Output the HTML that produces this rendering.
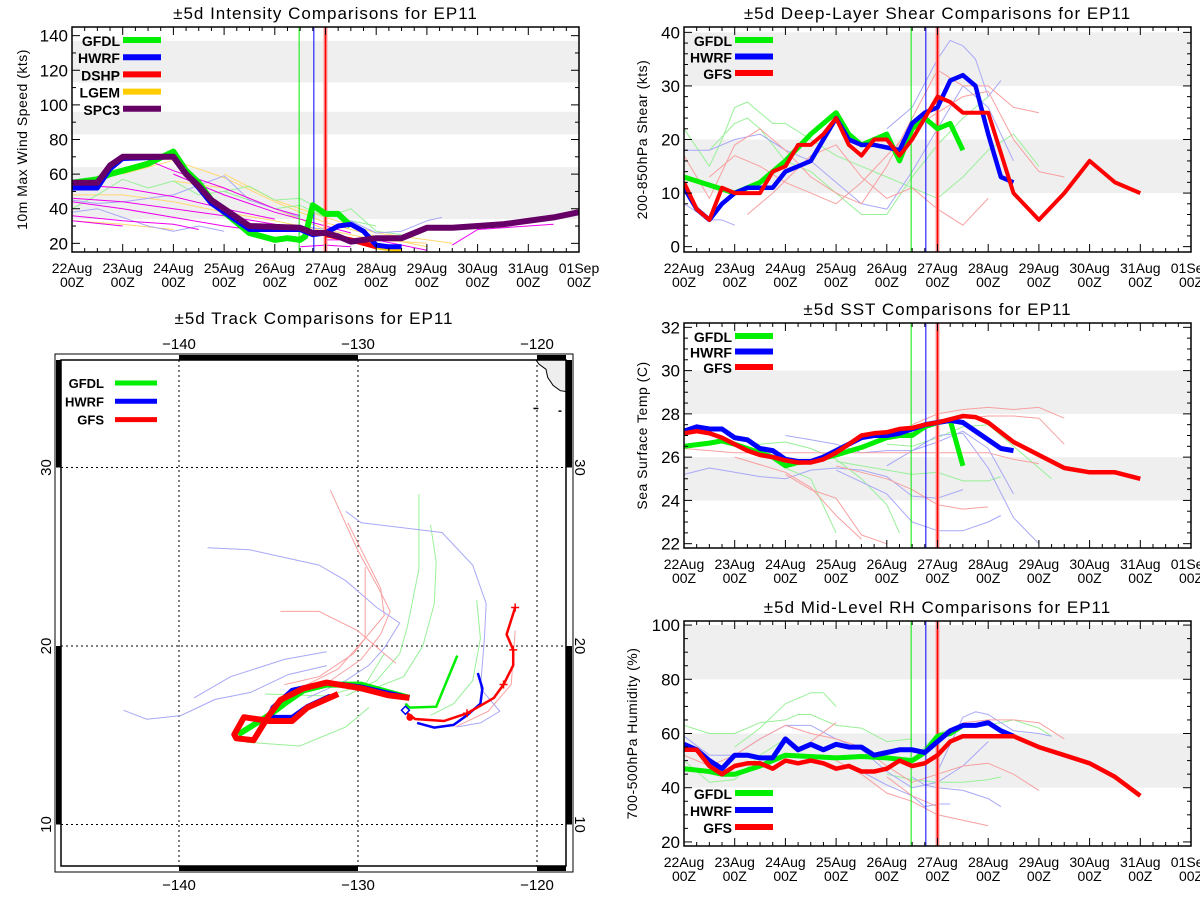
<!DOCTYPE html>
<html><head><meta charset="utf-8"><style>
html,body{margin:0;padding:0;background:#fff;}
svg{display:block;font-family:"Liberation Sans",sans-serif;}
</style></head><body>
<svg id="chart" width="1200" height="900" viewBox="0 0 1200 900"></svg>
<script>
// ---------------- DATA ----------------
const dayLabels=["22Aug","23Aug","24Aug","25Aug","26Aug","27Aug","28Aug","29Aug","30Aug","31Aug","01Sep"];
const fcstDays=[4.48,4.77,5.0];
// Intensity (kts)
const intSpc3=[[0,55],[0.5,55],[0.75,65],[1,70],[2,70],[2.25,60],[2.5,53],[2.75,45],[3,40],[3.25,35],[3.5,30],[4.5,29],[4.75,26],[5,26],[5.25,24],[5.5,21],[6,23],[6.5,23],[7,29],[7.5,29],[8,30],[8.5,31],[9,33],[9.5,35],[10,38]];
const intHwrf=[[0,52],[0.5,52],[0.75,63],[1,69],[2,70],[2.25,60],[2.5,52],[2.75,43],[3,38],[3.25,33],[3.5,28],[4.5,28],[4.75,25],[5,26],[5.25,30],[5.5,31],[5.75,27],[6,19],[6.25,18],[6.5,18]];
const intGfdl=[[0,55],[0.5,57],[0.75,60],[1,62],[1.5,66],[2,73],[2.25,62],[2.5,55],[2.75,45],[3,38],[3.25,32],[3.5,26],[3.75,24],[4,22],[4.25,23],[4.5,22],[4.6,24],[4.75,42],[5,37],[5.25,37],[5.5,30]];
const intDshp=[[5,25],[5.5,22],[6,18]];
const intLgem=[[6,18],[6.5,16]];
const intThinMag=[[[0,46],[1,44],[2,40],[3,36],[4,31],[4.5,28]],[[0,44],[1,40],[2,35],[3,30],[3.5,28]],[[0,54],[1,52],[2,47],[3,40],[4,34]],[[0,36],[1,33],[2,31],[2.5,28]],[[0,33],[1,30]],[[1.5,68],[2,62],[3,52],[4,40],[4.5,36]],[[2,60],[3,48],[4,38],[5,30],[5.5,26]],[[4.5,18],[5,19],[5.5,18]],[[7.5,19],[8,28],[9,30],[9.5,31]],[[5,22],[6,22],[7,16]]];
const intThinYel=[[[0,48],[1,48],[2,44],[3,38],[4,33],[5,27]],[[1,60],[2,68],[3,58],[4,44],[5,32],[6,24],[7,18]],[[0,33],[1,31],[2,28]],[[2,56],[3,52],[4,40],[5,28],[6,22],[7,20]],[[3,60],[4,45],[5,35],[6,26],[7.5,20]]];
const intThinGrn=[[[0,40],[0.5,48],[1,57],[1.5,52],[2,56],[2.5,48],[3,50],[3.5,53],[4,45],[4.5,46],[5,38],[5.5,33],[6,30]],[[3,50],[3.5,45],[4,40],[4.5,42],[5,35],[5.5,40],[6,27],[6.5,25]]];
const intThinBlu=[[[0,38],[0.5,40],[1,35],[1.5,30],[2,27],[2.5,30],[3,27]],[[0,45],[0.5,43],[1,44],[2,48],[3,59],[3.5,45],[4,40],[4.5,35]],[[4.5,30],[5,28],[5.5,33],[6,26],[6.5,27],[7,33],[7.3,35]]];
// Shear (kts)
const shGfs=[[0,12],[0.25,7],[0.5,5],[0.75,11],[1,10],[1.25,10],[1.5,10],[1.75,14],[2,15],[2.25,19],[2.5,19],[2.75,21],[3,24],[3.25,19],[3.5,17],[3.75,20],[4,20],[4.25,17],[4.5,20],[4.75,24],[5,28],[5.25,27],[5.5,25],[6,25],[6.5,10],[7,5],[7.5,10],[8,16],[8.5,12],[9,10]];
const shHwrf=[[0,11],[0.25,7],[0.5,5],[0.75,8],[1,10],[1.25,11],[1.5,11],[1.75,11],[2,14],[2.25,15],[2.5,16],[2.75,20],[3,24],[3.25,20],[3.5,19],[3.75,19],[4,18.5],[4.25,18],[4.5,23],[4.75,25],[5,26],[5.25,31],[5.5,32],[5.75,30],[6,21],[6.25,13],[6.5,12]];
const shGfdl=[[0,13],[1,10],[1.5,12],[2,16],[2.5,21],[3,25],[3.25,21],[3.5,19],[3.75,20],[4,21],[4.25,16],[4.5,22],[4.75,24],[5,22],[5.25,23],[5.5,18]];
const shThinG=[[[0,22],[0.5,15],[0.75,20],[1,26],[1.25,27],[1.5,25],[1.75,23],[2,23],[2.5,20],[3,17],[3.5,15],[4,13],[4.5,11],[5,9],[5.5,13],[6,18],[6.5,21],[7,15]],[[0.5,18],[1,23],[1.25,24],[1.5,22],[2,16],[2.5,14],[3,10],[3.5,6],[4,6],[4.5,13],[5,19],[5.5,24],[6,28]]];
const shThinB=[[[0,18],[0.5,18],[1,20],[1.5,21],[2,18],[2.5,16],[3,12],[3.5,8],[4,7],[4.5,14],[5,22],[5.5,30],[6,26],[6.5,16]],[[4,22],[4.5,26],[5,35],[5.25,38.5],[5.5,37.5],[5.75,35],[6,28],[6.25,31]],[[0,8],[0.5,5],[0.75,5],[1,4]]];
const shThinR=[[[0,17],[0.5,9],[1,19],[1.5,22],[2,18],[2.5,13],[3,10],[3.5,8],[4,15],[4.5,24],[5,33],[5.5,30],[6,30],[6.5,26],[7,25]],[[0.5,13],[1,17],[1.5,15],[2,12],[2.5,10],[3,8],[3.5,12],[4,17],[4.5,22],[5,25],[5.5,28],[6,29],[6.5,20],[7,14],[7.5,13]],[[1.25,6],[1.75,10],[2.5,17],[3,19],[3.5,13],[4,9],[4.5,11],[5,7],[5.5,4],[6,9]]];
// SST (C)
const sstGfs=[[0,27.1],[0.25,27.2],[0.5,27.1],[0.75,26.9],[1,26.6],[1.25,26.3],[1.5,26.1],[1.75,26.0],[2,25.85],[2.25,25.75],[2.5,25.75],[2.75,25.9],[3,26.2],[3.25,26.6],[3.5,27.0],[3.75,27.1],[4,27.15],[4.25,27.3],[4.5,27.35],[4.75,27.5],[5,27.6],[5.25,27.75],[5.5,27.9],[5.75,27.85],[6,27.6],[6.5,26.7],[7,26.1],[7.5,25.5],[8,25.3],[8.5,25.3],[9,25.0]];
const sstHwrf=[[0,27.2],[0.25,27.4],[0.5,27.3],[0.75,27.3],[1,26.9],[1.25,26.8],[1.5,26.4],[1.75,26.3],[2,25.9],[2.25,25.8],[2.5,25.8],[2.75,26.0],[3,26.3],[3.25,26.6],[3.5,26.9],[3.75,27.0],[4,27.0],[4.25,27.1],[4.5,27.3],[4.75,27.5],[5,27.6],[5.25,27.7],[5.5,27.6],[5.75,27.2],[6,26.8],[6.25,26.4],[6.5,26.3]];
const sstGfdl=[[0,26.5],[0.5,26.65],[0.75,26.75],[1,26.6],[1.5,26.2],[1.75,26.0],[2,25.6],[2.25,25.75],[2.5,25.8],[3,26.1],[3.5,26.45],[4,26.9],[4.25,27.0],[4.5,27.0],[4.75,27.4],[5,27.6],[5.25,27.7],[5.5,25.6]];
const sstThinB=[[[0,25.2],[0.5,25.5],[1,25.3],[1.5,25.1],[2,25.0],[2.5,25.4],[3,25.5],[3.5,25.4],[4,25.1],[4.5,24.2],[5,24.1],[5.5,24.5]],[[2,27.0],[2.5,26.8],[3,26.6],[3.5,26.2],[4,26.3],[4.5,26.3],[5,26.7],[5.5,27.2],[6,26.4],[6.5,24.3]],[[3,25.4],[4,24.3],[4.5,23.0],[5,22.6],[5.5,22.6],[6,23.0],[6.25,23.3]],[[4,25.6],[5,27.0],[5.5,27.1],[6,25.5],[6.5,23.2],[7,22]]];
const sstThinG=[[[1,26.8],[1.5,26.6],[2,26.7],[2.5,26.4],[3,25.9],[3.5,25.0],[4,23.8],[4.25,22.5]],[[2,25.5],[2.5,25.0],[3,22.5]],[[4,26.6],[4.5,26.5],[5,26.9],[5.5,27.4],[6,27.5],[6.5,26.5],[7.25,25.0]],[[3,25.8],[4,25.4],[4.5,25.2],[5,25.3],[5.5,24.9],[6,24.9],[6.25,25.1]]];
const sstThinR=[[[2,25.2],[2.5,24.5],[3,24.1],[3.5,22.4],[4,22.0]],[[0,26.4],[1,26.2],[2,26.2],[3,26.2],[4,26.2],[5,26.2],[6,26.2],[6.5,25.9],[7,25.7]],[[3,25.6],[4,25.0],[4.5,24.5],[5,23.8],[5.5,23.6],[6,23.7]],[[4.5,27.5],[5,28.0],[5.5,28.2],[6,28.3],[6.5,28.2],[7,28.3],[7.5,27.8]],[[5,27.7],[6,27.9],[6.5,27.9],[7,27.8],[7.5,26.6]],[[1,26.0],[2,25.3],[2.5,24.6],[3,23.3],[3.5,22.2]]];
// RH (%)
const rhGfs=[[0,54],[0.25,54],[0.5,48],[0.75,45],[1,48],[1.25,49],[1.5,49],[1.75,47],[2,50],[2.25,49],[2.5,50],[2.75,49],[3,47],[3.25,48],[3.5,46],[3.75,46],[4,47],[4.25,50],[4.5,48],[4.75,49],[5,52],[5.25,57],[5.5,59],[6,59],[6.5,59],[7,55],[7.5,52],[8,49],[8.5,44],[9,37]];
const rhHwrf=[[0,56],[0.25,54],[0.5,50],[0.75,47],[1,52],[1.25,52],[1.5,51],[1.75,51],[2,58],[2.25,54],[2.5,56],[2.75,54],[3,56],[3.25,55],[3.5,55],[3.75,52],[4,53],[4.25,54],[4.5,54],[4.75,53],[5,57],[5.25,61],[5.5,63],[5.75,63],[6,64],[6.25,61],[6.5,59]];
const rhGfdl=[[0,47],[0.5,46],[0.75,45],[1,45],[1.5,48],[2,52],[3,51],[3.5,51.5],[4,51],[4.5,50],[4.75,53],[5,59],[5.25,60],[5.5,63]];
const rhThinG=[[[0,63],[0.5,60],[1,60],[1.5,64],[2,65],[2.25,67],[2.5,67],[3,63],[3.5,62],[4,57],[4.5,58]],[[1,55],[1.5,62],[2,71],[2.25,73],[2.5,75],[2.75,75],[3,70]],[[0,50],[0.5,42],[1,43],[1.5,52],[2,58]],[[4,45],[4.5,43],[5,42],[5.5,42],[6,43],[6.25,44]],[[4.5,50],[5,60],[5.5,63],[6,63],[6.5,65],[7,62],[7.25,59]]];
const rhThinB=[[[0,59],[0.5,52],[1,52],[1.5,58],[2,63],[2.5,63],[3,58],[3.5,54],[4,46],[4.5,40],[5,42],[5.5,48],[6,57]],[[4.5,44],[4.75,41],[5,40],[5.5,39],[6,36],[6.25,33]],[[5,46],[5.5,66],[5.75,68],[6,67],[6.5,61],[7,60],[7.25,59]],[[3.5,46],[4,41],[4.5,37],[4.75,33],[5,34],[5.25,34]]];
const rhThinR=[[[0,52],[0.5,48],[1,52],[1.5,58],[2,63],[2.5,60],[3,58],[3.5,55],[4,48],[4.5,42],[5,45],[5.5,48],[6,49],[6.5,45],[7,39]],[[2.5,57],[3,64]],[[3,50],[3.5,45],[4,38],[4.5,35],[5,30],[6,26]],[[5.5,64],[6,65],[6.5,65],[7,64],[7.5,58]],[[4,44],[4.5,37],[5,33]]];
// Track (lon, lat)
const trkGfsThick=[[-127.13,17.09],[-128.31,17.24],[-129.82,17.63],[-131.75,17.95],[-133.04,17.63],[-134.33,16.98],[-134.97,16.12],[-135.83,14.72],[-136.8,14.83],[-136.91,15.04],[-136.37,16.01],[-134.97,15.8],[-133.68,15.8],[-132.83,16.55],[-131.11,17.31]];
const trkGfdlThick=[[-136.69,15.04],[-134.97,16.12],[-134.11,16.77],[-133.04,17.52],[-131.75,17.84],[-129.82,17.84],[-128.31,17.41],[-127.13,17.09]];
const trkHwrfThick=[[-127.13,17.09],[-129.82,17.7],[-131.75,17.95],[-133.68,17.52],[-134.75,16.55],[-134.97,16.0],[-133.68,16.0],[-132.83,16.6],[-131.54,17.2]];
const trkGfsNow=[[-127.24,16.23],[-126.81,15.91],[-125.2,15.8],[-123.91,16.23],[-122.41,17.09],[-121.87,17.84],[-121.33,18.92],[-121.33,19.78],[-121.7,20.65],[-121.22,22.16]];
const trkGfdlNow=[[-127.35,16.77],[-127.13,16.55],[-125.63,16.6],[-124.45,19.46]];
const trkHwrfNow=[[-126.7,15.69],[-125.74,15.43],[-124.66,15.58],[-123.91,16.12],[-123.16,16.77],[-123.05,17.63],[-123.31,18.49]];
const trkThinB=[[[-143.1,16.4],[-141.8,15.9],[-139.9,16.1],[-138.0,17.0],[-136.0,17.4],[-133.9,18.4],[-131.75,18.9]],[[-138.41,25.5],[-136.05,25.39],[-132.18,24.53],[-130.68,23.66],[-128.96,22.16],[-127.67,21.29],[-128.53,19.89],[-129.39,18.92],[-130.68,18.06],[-132.83,17.09]],[[-130.68,27.54],[-129.82,26.9],[-125.31,26.36],[-123.59,24.53],[-122.84,22.37],[-122.94,20.43],[-123.16,17.63],[-122.08,16.34],[-123.16,15.69],[-124.45,15.47]],[[-139.16,17.09],[-137.12,18.28],[-134.11,19.25],[-131.75,19.68]]];
const trkThinG=[[[-126.6,28.51],[-126.6,24.31],[-127.24,21.08],[-127.67,19.57],[-128.96,18.06],[-130.68,17.2]],[[-125.95,26.79],[-125.63,24.74],[-125.74,22.37],[-126.38,20.0],[-127.45,18.28],[-129.39,17.52]],[[-123.37,22.59],[-123.16,20.43],[-123.59,18.06],[-124.66,16.77],[-125.95,16.12]],[[-136.26,14.61],[-133.25,14.4],[-130.68,15.47],[-129.39,16.55]],[[-135.19,17.31],[-131.75,17.2],[-129.6,17.84],[-128.53,19.57]]];
const trkThinR=[[[-131.54,28.73],[-130.03,25.39],[-128.74,23.02],[-128.2,21.94],[-128.74,20.65],[-129.82,19.25],[-131.54,18.06],[-133.68,17.2]],[[-130.57,26.9],[-128.74,23.23],[-128.53,21.72],[-129.6,20.43],[-131.11,18.71],[-132.83,17.84]],[[-134.33,21.94],[-132.18,21.94],[-130.03,20.86],[-128.53,19.57],[-127.88,19.03]],[[-129.6,24.42],[-129.6,20.43],[-130.25,19.57],[-132.18,18.28],[-134.11,17.84]],[[-121.22,20.86],[-121.44,17.84],[-122.73,16.34],[-124.56,15.47]]];
const trkCrosses=[[-123.91,16.23],[-121.87,17.84],[-121.33,19.78],[-121.22,22.16]];
const coast=[[-120.1,36.1],[-119.9,35.8],[-119.5,35.5],[-119.4,35.05],[-119.1,34.6],[-118.7,34.3],[-118.0,34.2],[-117.3,34.0],[-117.0,33.8]];

// ---------------- RENDER ----------------
const NS="http://www.w3.org/2000/svg";
const svg=document.getElementById('chart');
function mk(tag,attrs,parent,name,inter){
  const e=document.createElementNS(NS,tag);
  for(const k in attrs) e.setAttribute(k,attrs[k]);
  
  
  (parent||svg).appendChild(e);return e;
}
function txt(x,y,s,size,anchor,parent,name,extra){
  const a=Object.assign({x:x,y:y,'font-size':size,'text-anchor':anchor||'middle',fill:'#000'},extra||{});
  const t=mk('text',a,parent,name,false);t.textContent=s;return t;
}
function pathOf(pts,fx,fy){return pts.map((p,i)=>(i?'L':'M')+fx(p[0]).toFixed(1)+' '+fy(p[1]).toFixed(1)).join(' ');}

const C={g:'#00ee00',b:'#0000ff',r:'#ff0000',p:'#660066',y:'#ffcc00',m:'#ee00ee',lg:'#99f099',lb:'#a8a8f8',lr:'#f8a0a0',ly:'#ffd870'};

function timePanel(p){
  const g=mk('g',{},svg,p.name,false);
  const xs=d=>p.x0+d*(p.x1-p.x0)/10;
  const ys=v=>p.y1-(v-p.vmin)*(p.y1-p.y0)/(p.vmax-p.vmin);
  const cid='clip-'+p.name;
  const cp=mk('clipPath',{id:cid},g,cid,false);
  mk('rect',{x:p.x0,y:p.y0,width:p.x1-p.x0,height:p.y1-p.y0},cp,'clip-rect',false);
  const inner=mk('g',{'clip-path':'url(#'+cid+')'},g,'plot-area',false);
  p.bands.forEach(b=>{mk('rect',{x:p.x0,y:ys(b[1]),width:p.x1-p.x0,height:ys(b[0])-ys(b[1]),fill:'#efefef'},inner,'shaded-band',false);});
  const drawSet=(sets,col,w,nm)=>sets.forEach(s=>mk('path',{d:pathOf(s,xs,ys),fill:'none',stroke:col,'stroke-width':w,'stroke-linejoin':'round'},inner,nm,false));
  p.thin.forEach(t=>drawSet(t[0],t[1],1,'ensemble-line'));
  // forecast-time vertical lines
  mk('line',{x1:xs(fcstDays[0]),x2:xs(fcstDays[0]),y1:p.y0,y2:p.y1,stroke:C.g,'stroke-width':1},inner,'gfdl-time-marker',false);
  mk('line',{x1:xs(fcstDays[1]),x2:xs(fcstDays[1]),y1:p.y0,y2:p.y1,stroke:C.b,'stroke-width':1},inner,'hwrf-time-marker',false);
  mk('line',{x1:xs(fcstDays[2]),x2:xs(fcstDays[2]),y1:p.y0,y2:p.y1,stroke:'#f8a0a0','stroke-width':4},inner,'gfs-time-marker-glow',false);
  mk('line',{x1:xs(fcstDays[2]),x2:xs(fcstDays[2]),y1:p.y0,y2:p.y1,stroke:C.r,'stroke-width':1.5},inner,'gfs-time-marker',false);
  p.main.forEach(s=>mk('path',{d:pathOf(s.d,xs,ys),fill:'none',stroke:s.c,'stroke-width':s.w,'stroke-linejoin':'round'},inner,s.name,false));
  // frame
  mk('rect',{x:p.x0,y:p.y0,width:p.x1-p.x0,height:p.y1-p.y0,fill:'none',stroke:'#000','stroke-width':1.5},g,'plot-frame',false);
  // x ticks
  for(let i=0;i<=40;i++){
    const d=i/4,x=xs(d),L=(i%4===0)?8:4;
    mk('line',{x1:x,x2:x,y1:p.y1,y2:p.y1-L,stroke:'#000','stroke-width':1},g,'x-tick',false);
    mk('line',{x1:x,x2:x,y1:p.y0,y2:p.y0+L,stroke:'#000','stroke-width':1},g,'x-tick-top',false);
  }
  dayLabels.forEach((s,i)=>{txt(xs(i),p.y1+21,s,14,'middle',g,'x-tick-label');txt(xs(i),p.y1+35,'00Z',14,'middle',g,'x-tick-label-hour');});
  // y ticks
  for(let v=p.tk0;v<=p.tk1+1e-6;v+=p.minor){
    const y=ys(v);const maj=Math.abs((v-p.tk0)/p.major-Math.round((v-p.tk0)/p.major))<1e-6;const L=maj?8:4;
    mk('line',{x1:p.x0,x2:p.x0+L,y1:y,y2:y,stroke:'#000'},g,'y-tick',false);
    mk('line',{x1:p.x1,x2:p.x1-L,y1:y,y2:y,stroke:'#000'},g,'y-tick-right',false);
    if(maj) txt(p.x0-4,y+6,String(v),17,'end',g,'y-tick-label');
  }
  txt((p.x0+p.x1)/2,p.y0-8,p.title,17,'middle',g,'panel-title',{'letter-spacing':'1'});
  txt(0,0,p.ylabel,14,'middle',g,'y-axis-title',{transform:'translate('+p.ylx+','+((p.y0+p.y1)/2)+') rotate(-90)','letter-spacing':'0.5'});
  // legend
  p.legend.forEach((l,i)=>{
    const y=p.ly+i*p.lstep;
    txt(p.lx-3,y+6,l[0],14,'end',g,'legend-label',{'font-weight':'bold'});
    mk('line',{x1:p.lx,x2:p.lx+38,y1:y,y2:y,stroke:l[1],'stroke-width':6},g,'legend-swatch',false);
  });
}

timePanel({name:'intensity-panel',x0:72,x1:579,y0:27,y1:252,vmin:15,vmax:145,bands:[[34,64],[83,96],[113,137]],
  tk0:20,tk1:140,major:20,minor:10,title:'±5d Intensity Comparisons for EP11',ylabel:'10m Max Wind Speed (kts)',ylx:27,
  thin:[[intThinYel,C.ly],[intThinGrn,C.lg],[intThinBlu,C.lb],[intThinMag,C.m]],
  main:[{d:intDshp,c:C.r,w:5,name:'dshp-line'},{d:intLgem,c:C.y,w:5,name:'lgem-line'},{d:intGfdl,c:C.g,w:6,name:'gfdl-line'},{d:intHwrf,c:C.b,w:5,name:'hwrf-line'},{d:intSpc3,c:C.p,w:6,name:'spc3-line'}],
  legend:[['GFDL',C.g],['HWRF',C.b],['DSHP',C.r],['LGEM',C.y],['SPC3',C.p]],lx:123,ly:40,lstep:17.2});
timePanel({name:'shear-panel',x0:684,x1:1191,y0:27,y1:252,vmin:-1,vmax:41,bands:[[10,20],[30,40]],
  tk0:0,tk1:40,major:10,minor:2,title:'±5d Deep-Layer Shear Comparisons for EP11',ylabel:'200-850hPa Shear (kts)',ylx:647,
  thin:[[shThinG,C.lg],[shThinB,C.lb],[shThinR,C.lr]],
  main:[{d:shGfdl,c:C.g,w:5,name:'gfdl-line'},{d:shHwrf,c:C.b,w:4.5,name:'hwrf-line'},{d:shGfs,c:C.r,w:4,name:'gfs-line'}],
  legend:[['GFDL',C.g],['HWRF',C.b],['GFS',C.r]],lx:735,ly:40,lstep:16.5});
timePanel({name:'sst-panel',x0:684,x1:1191,y0:323,y1:548,vmin:21.8,vmax:32.2,bands:[[24,26],[28,30]],
  tk0:22,tk1:32,major:2,minor:0.5,title:'±5d SST Comparisons for EP11',ylabel:'Sea Surface Temp (C)',ylx:647,
  thin:[[sstThinG,C.lg],[sstThinB,C.lb],[sstThinR,C.lr]],
  main:[{d:sstGfdl,c:C.g,w:5,name:'gfdl-line'},{d:sstHwrf,c:C.b,w:5,name:'hwrf-line'},{d:sstGfs,c:C.r,w:4.5,name:'gfs-line'}],
  legend:[['GFDL',C.g],['HWRF',C.b],['GFS',C.r]],lx:735,ly:336,lstep:15.5});
timePanel({name:'rh-panel',x0:684,x1:1191,y0:621,y1:846,vmin:18.5,vmax:101.5,bands:[[40,60],[80,100]],
  tk0:20,tk1:100,major:20,minor:5,title:'±5d Mid-Level RH Comparisons for EP11',ylabel:'700-500hPa Humidity (%)',ylx:637,
  thin:[[rhThinG,C.lg],[rhThinB,C.lb],[rhThinR,C.lr]],
  main:[{d:rhGfdl,c:C.g,w:5,name:'gfdl-line'},{d:rhHwrf,c:C.b,w:5,name:'hwrf-line'},{d:rhGfs,c:C.r,w:4.5,name:'gfs-line'}],
  legend:[['GFDL',C.g],['HWRF',C.b],['GFS',C.r]],lx:735,ly:793,lstep:17});

// ---------------- TRACK MAP ----------------
(function(){
  const g=mk('g',{},svg,'track-panel',false);
  const X0=61,X1=566,Y0=360,Y1=866;
  const lx=lon=>179+(lon+140)*17.9;
  const ly=lat=>646-(lat-20)*17.85;
  mk('clipPath',{id:'trkclip'},g,'track-clip',false).appendChild((()=>{const r=document.createElementNS(NS,'rect');r.setAttribute('x',X0);r.setAttribute('y',Y0);r.setAttribute('width',X1-X0);r.setAttribute('height',Y1-Y0);return r;})());
  const inner=mk('g',{'clip-path':'url(#trkclip)'},g,'map-area',false);
  // land
  const lp=coast.map((p,i)=>(i?'L':'M')+lx(p[0]).toFixed(1)+' '+ly(p[1]).toFixed(1)).join(' ')+' L '+(X1+2)+' '+ly(33.8).toFixed(1)+' L '+(X1+2)+' '+(Y0-2)+' Z';
  mk('path',{d:lp,fill:'#eeeeee',stroke:'#000','stroke-width':1},inner,'land-coastline',false);
  mk('rect',{x:lx(-120.2),y:ly(33.35),width:5,height:1.5,fill:'#000'},inner,'island',false);
  mk('rect',{x:lx(-118.8),y:ly(33.2),width:3,height:1.5,fill:'#000'},inner,'island',false);
  // grid
  [-140,-130,-120].forEach(l=>mk('line',{x1:lx(l),x2:lx(l),y1:Y0,y2:Y1,stroke:'#000','stroke-dasharray':'2,3','stroke-width':1},inner,'longitude-gridline',false));
  [30,20,10].forEach(l=>mk('line',{x1:X0,x2:X1,y1:ly(l),y2:ly(l),stroke:'#000','stroke-dasharray':'2,3','stroke-width':1},inner,'latitude-gridline',false));
  const ds=(sets,col,nm)=>sets.forEach(s=>mk('path',{d:pathOf(s,lx,ly),fill:'none',stroke:col,'stroke-width':1},inner,nm,false));
  ds(trkThinG,C.lg,'ensemble-track');ds(trkThinR,C.lr,'ensemble-track');ds(trkThinB,C.lb,'ensemble-track');
  mk('path',{d:pathOf(trkGfdlThick,lx,ly),fill:'none',stroke:C.g,'stroke-width':6,'stroke-linejoin':'round'},inner,'gfdl-track-thick',false);
  mk('path',{d:pathOf(trkHwrfThick,lx,ly),fill:'none',stroke:C.b,'stroke-width':5,'stroke-linejoin':'round'},inner,'hwrf-track-thick',false);
  mk('path',{d:pathOf(trkGfsThick,lx,ly),fill:'none',stroke:C.r,'stroke-width':6,'stroke-linejoin':'round'},inner,'gfs-track-thick',false);
  mk('path',{d:pathOf(trkGfdlNow,lx,ly),fill:'none',stroke:C.g,'stroke-width':2.5},inner,'gfdl-track',false);
  mk('path',{d:pathOf(trkHwrfNow,lx,ly),fill:'none',stroke:C.b,'stroke-width':2.5},inner,'hwrf-track',false);
  mk('path',{d:pathOf(trkGfsNow,lx,ly),fill:'none',stroke:C.r,'stroke-width':2.5},inner,'gfs-track',false);
  trkCrosses.forEach(p=>mk('path',{d:'M'+(lx(p[0])-4)+' '+ly(p[1])+'h8M'+lx(p[0])+' '+(ly(p[1])-4)+'v8',stroke:C.r,'stroke-width':1.5},inner,'track-marker',false));
  mk('path',{d:'M'+lx(-127.35)+' '+(ly(16.4)-4)+'l4 4l-4 4l-4 -4z',fill:'none',stroke:C.b,'stroke-width':1.5},inner,'hwrf-start-marker',false);
  mk('circle',{cx:lx(-127.1),cy:ly(16.0),r:3.5,fill:C.r},inner,'gfs-start-marker',false);
  // frame & bars
  mk('rect',{x:55,y:354,width:518,height:518,fill:'none',stroke:'#000','stroke-width':1},g,'map-outer-frame',false);
  mk('rect',{x:X0,y:Y0,width:X1-X0,height:Y1-Y0,fill:'none',stroke:'#000','stroke-width':1.5},g,'map-frame',false);
  [[lx(-140),lx(-130)],[lx(-120),X1]].forEach(s=>{
    mk('rect',{x:s[0],y:355,width:s[1]-s[0],height:5,fill:'#000'},g,'frame-bar-top',false);
    mk('rect',{x:s[0],y:866,width:s[1]-s[0],height:5,fill:'#000'},g,'frame-bar-bottom',false);
  });
  [[Y0,ly(30)],[ly(20),ly(10)]].forEach(s=>{
    mk('rect',{x:56,y:s[0],width:5,height:s[1]-s[0],fill:'#000'},g,'frame-bar-left',false);
    mk('rect',{x:566,y:s[0],width:6,height:s[1]-s[0],fill:'#000'},g,'frame-bar-right',false);
  });
  [-140,-130,-120].forEach(l=>{txt(lx(l),349,'\u2212'+Math.abs(l),15,'middle',g,'longitude-label-top');txt(lx(l),890,'\u2212'+Math.abs(l),15,'middle',g,'longitude-label-bottom');});
  [30,20,10].forEach(l=>{
    txt(0,0,String(l),15,'middle',g,'latitude-label-left',{transform:'translate(51,'+ly(l)+') rotate(-90)'});
    txt(0,0,String(l),15,'middle',g,'latitude-label-right',{transform:'translate(575,'+ly(l)+') rotate(90)'});
  });
  txt(314,324,'±5d Track Comparisons for EP11',17,'middle',g,'track-title',{'letter-spacing':'1'});
  [['GFDL',C.g],['HWRF',C.b],['GFS',C.r]].forEach((l,i)=>{
    const y=383+i*18.3;
    txt(104,y+5,l[0],13,'end',g,'legend-label',{'font-weight':'bold'});
    mk('line',{x1:115,x2:157,y1:y,y2:y,stroke:l[1],'stroke-width':5},g,'legend-swatch',false);
  });
})();
</script>
</body></html>
